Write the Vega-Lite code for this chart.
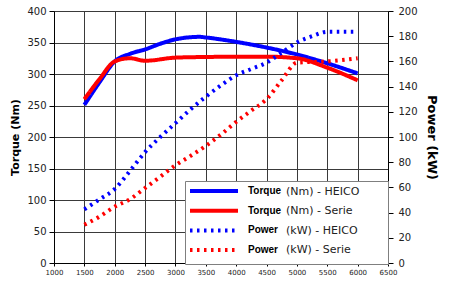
{
  "$schema": "https://vega.github.io/schema/vega-lite/v6.json",
  "width": 334,
  "height": 252,
  "autosize": {"type": "none"},
  "padding": {"left": 54, "top": 11, "right": 62, "bottom": 24},
  "background": "white",
  "config": {
    "view": {"stroke": null},
    "font": "DejaVu Sans",
    "axis": {"gridColor": "#3a3a3a", "gridOpacity": 1, "gridWidth": 1, "domainColor": "#000", "tickColor": "#000", "labelColor": "#222", "labelFont": "DejaVu Sans", "titleFont": "DejaVu Sans", "titleColor": "#000"}
  },
  "datasets": {
    "torque": [
      {"rpm": 1500, "value": 251, "series": "Torque (Nm) - HEICO", "unit": "(Nm) - HEICO"},
      {"rpm": 1750, "value": 287, "series": "Torque (Nm) - HEICO", "unit": "(Nm) - HEICO"},
      {"rpm": 2000, "value": 320, "series": "Torque (Nm) - HEICO", "unit": "(Nm) - HEICO"},
      {"rpm": 2250, "value": 332, "series": "Torque (Nm) - HEICO", "unit": "(Nm) - HEICO"},
      {"rpm": 2500, "value": 339, "series": "Torque (Nm) - HEICO", "unit": "(Nm) - HEICO"},
      {"rpm": 2750, "value": 348, "series": "Torque (Nm) - HEICO", "unit": "(Nm) - HEICO"},
      {"rpm": 3000, "value": 355, "series": "Torque (Nm) - HEICO", "unit": "(Nm) - HEICO"},
      {"rpm": 3400, "value": 359, "series": "Torque (Nm) - HEICO", "unit": "(Nm) - HEICO"},
      {"rpm": 3500, "value": 358, "series": "Torque (Nm) - HEICO", "unit": "(Nm) - HEICO"},
      {"rpm": 4000, "value": 351, "series": "Torque (Nm) - HEICO", "unit": "(Nm) - HEICO"},
      {"rpm": 4500, "value": 342, "series": "Torque (Nm) - HEICO", "unit": "(Nm) - HEICO"},
      {"rpm": 5000, "value": 331, "series": "Torque (Nm) - HEICO", "unit": "(Nm) - HEICO"},
      {"rpm": 5500, "value": 317, "series": "Torque (Nm) - HEICO", "unit": "(Nm) - HEICO"},
      {"rpm": 6000, "value": 301, "series": "Torque (Nm) - HEICO", "unit": "(Nm) - HEICO"},
      {"rpm": 1500, "value": 260, "series": "Torque (Nm) - Serie", "unit": "(Nm) - Serie"},
      {"rpm": 1750, "value": 292, "series": "Torque (Nm) - Serie", "unit": "(Nm) - Serie"},
      {"rpm": 2000, "value": 320, "series": "Torque (Nm) - Serie", "unit": "(Nm) - Serie"},
      {"rpm": 2250, "value": 325, "series": "Torque (Nm) - Serie", "unit": "(Nm) - Serie"},
      {"rpm": 2500, "value": 321, "series": "Torque (Nm) - Serie", "unit": "(Nm) - Serie"},
      {"rpm": 3000, "value": 326, "series": "Torque (Nm) - Serie", "unit": "(Nm) - Serie"},
      {"rpm": 3500, "value": 327, "series": "Torque (Nm) - Serie", "unit": "(Nm) - Serie"},
      {"rpm": 4000, "value": 327.5, "series": "Torque (Nm) - Serie", "unit": "(Nm) - Serie"},
      {"rpm": 4500, "value": 327.5, "series": "Torque (Nm) - Serie", "unit": "(Nm) - Serie"},
      {"rpm": 5000, "value": 325, "series": "Torque (Nm) - Serie", "unit": "(Nm) - Serie"},
      {"rpm": 5500, "value": 310, "series": "Torque (Nm) - Serie", "unit": "(Nm) - Serie"},
      {"rpm": 6000, "value": 290, "series": "Torque (Nm) - Serie", "unit": "(Nm) - Serie"}
    ],
    "power": [
      {"rpm": 1500, "value": 42.6, "series": "Power (kW) - HEICO", "unit": "(kW) - HEICO"},
      {"rpm": 1750, "value": 50.5, "series": "Power (kW) - HEICO", "unit": "(kW) - HEICO"},
      {"rpm": 2000, "value": 58.7, "series": "Power (kW) - HEICO", "unit": "(kW) - HEICO"},
      {"rpm": 2250, "value": 73, "series": "Power (kW) - HEICO", "unit": "(kW) - HEICO"},
      {"rpm": 2500, "value": 88, "series": "Power (kW) - HEICO", "unit": "(kW) - HEICO"},
      {"rpm": 2750, "value": 100, "series": "Power (kW) - HEICO", "unit": "(kW) - HEICO"},
      {"rpm": 3000, "value": 111, "series": "Power (kW) - HEICO", "unit": "(kW) - HEICO"},
      {"rpm": 3250, "value": 122, "series": "Power (kW) - HEICO", "unit": "(kW) - HEICO"},
      {"rpm": 3500, "value": 132, "series": "Power (kW) - HEICO", "unit": "(kW) - HEICO"},
      {"rpm": 3750, "value": 141, "series": "Power (kW) - HEICO", "unit": "(kW) - HEICO"},
      {"rpm": 4000, "value": 149, "series": "Power (kW) - HEICO", "unit": "(kW) - HEICO"},
      {"rpm": 4250, "value": 154, "series": "Power (kW) - HEICO", "unit": "(kW) - HEICO"},
      {"rpm": 4500, "value": 159, "series": "Power (kW) - HEICO", "unit": "(kW) - HEICO"},
      {"rpm": 4750, "value": 167, "series": "Power (kW) - HEICO", "unit": "(kW) - HEICO"},
      {"rpm": 5000, "value": 175, "series": "Power (kW) - HEICO", "unit": "(kW) - HEICO"},
      {"rpm": 5250, "value": 180, "series": "Power (kW) - HEICO", "unit": "(kW) - HEICO"},
      {"rpm": 5500, "value": 183.5, "series": "Power (kW) - HEICO", "unit": "(kW) - HEICO"},
      {"rpm": 6000, "value": 183.5, "series": "Power (kW) - HEICO", "unit": "(kW) - HEICO"},
      {"rpm": 1500, "value": 30.4, "series": "Power (kW) - Serie", "unit": "(kW) - Serie"},
      {"rpm": 1750, "value": 36.8, "series": "Power (kW) - Serie", "unit": "(kW) - Serie"},
      {"rpm": 2000, "value": 44.7, "series": "Power (kW) - Serie", "unit": "(kW) - Serie"},
      {"rpm": 2250, "value": 50.6, "series": "Power (kW) - Serie", "unit": "(kW) - Serie"},
      {"rpm": 2500, "value": 59.5, "series": "Power (kW) - Serie", "unit": "(kW) - Serie"},
      {"rpm": 2750, "value": 68.5, "series": "Power (kW) - Serie", "unit": "(kW) - Serie"},
      {"rpm": 3000, "value": 77.6, "series": "Power (kW) - Serie", "unit": "(kW) - Serie"},
      {"rpm": 3250, "value": 85, "series": "Power (kW) - Serie", "unit": "(kW) - Serie"},
      {"rpm": 3500, "value": 93, "series": "Power (kW) - Serie", "unit": "(kW) - Serie"},
      {"rpm": 3750, "value": 102, "series": "Power (kW) - Serie", "unit": "(kW) - Serie"},
      {"rpm": 4000, "value": 112, "series": "Power (kW) - Serie", "unit": "(kW) - Serie"},
      {"rpm": 4250, "value": 121, "series": "Power (kW) - Serie", "unit": "(kW) - Serie"},
      {"rpm": 4500, "value": 130, "series": "Power (kW) - Serie", "unit": "(kW) - Serie"},
      {"rpm": 4750, "value": 145, "series": "Power (kW) - Serie", "unit": "(kW) - Serie"},
      {"rpm": 5000, "value": 159, "series": "Power (kW) - Serie", "unit": "(kW) - Serie"},
      {"rpm": 5500, "value": 160, "series": "Power (kW) - Serie", "unit": "(kW) - Serie"},
      {"rpm": 6000, "value": 162.5, "series": "Power (kW) - Serie", "unit": "(kW) - Serie"}
    ]
  },
  "encoding": {
    "x": {
      "field": "rpm", "type": "quantitative",
      "scale": {"domain": [1000, 6500], "nice": false, "zero": false},
      "axis": {"title": null, "values": [1000, 1500, 2000, 2500, 3000, 3500, 4000, 4500, 5000, 5500, 6000, 6500], "format": "d", "labelFontSize": 7, "tickSize": 3, "labelPadding": 2, "grid": true, "labelFlush": false}
    },
    "color": {
      "field": "series", "type": "nominal",
      "scale": {"domain": ["Torque (Nm) - HEICO", "Torque (Nm) - Serie", "Power (kW) - HEICO", "Power (kW) - Serie"], "range": ["#0000ff", "#ff0000", "#0000ff", "#ff0000"]},
      "legend": {
        "orient": "none", "legendX": 131, "legendY": 170, "title": null, "zindex": 1,
        "symbolType": "M-1.667,0H14.333", "symbolSize": 36, "labelOffset": 48,
        "labelFont": "Liberation Sans", "labelFontSize": 10, "labelFontWeight": "bold", "labelColor": "#000",
        "labelLimit": 400,
        "labelExpr": "split(datum.label, ' ')[0] + '\u00a0\u00a0\u00a0\u00a0\u00a0\u00a0\u00a0\u00a0\u00a0\u00a0\u00a0\u00a0\u00a0\u00a0\u00a0\u00a0\u00a0\u00a0\u00a0\u00a0\u00a0\u00a0\u00a0\u00a0\u00a0\u00a0\u00a0\u00a0\u00a0\u00a0\u00a0\u00a0\u00a0\u00a0\u2800'",
        "rowPadding": 3.7, "padding": 5,
        "fillColor": "white", "strokeColor": "#7f7f7f"
      }
    },
    "strokeDash": {
      "field": "series", "type": "nominal",
      "scale": {"domain": ["Torque (Nm) - HEICO", "Torque (Nm) - Serie", "Power (kW) - HEICO", "Power (kW) - Serie"], "range": [[1, 0], [1, 0], [2.5, 4.5], [2.5, 4.5]]}
    },
    "strokeWidth": {
      "field": "series", "type": "nominal",
      "scale": {"domain": ["Torque (Nm) - HEICO", "Torque (Nm) - Serie", "Power (kW) - HEICO", "Power (kW) - Serie"], "range": [4, 4, 2, 2]}
    },
    "opacity": {
      "field": "unit", "type": "nominal",
      "scale": {"domain": ["(Nm) - HEICO", "(Nm) - Serie", "(kW) - HEICO", "(kW) - Serie"], "range": [1, 1, 1, 1]},
      "legend": {
        "orient": "none", "legendX": 131, "legendY": 170, "title": null, "zindex": 2,
        "symbolType": "M-1.667,0H14.333", "symbolSize": 36, "symbolStrokeWidth": 4,
        "symbolStrokeColor": "transparent", "symbolFillColor": "transparent", "symbolOpacity": 0,
        "labelOffset": 85, "labelFontSize": 11, "labelColor": "#222",
        "rowPadding": 2.5, "padding": 5,
        "fillColor": "transparent", "strokeColor": "transparent"
      }
    }
  },
  "layer": [
    {
      "data": {"name": "torque"},
      "mark": {"type": "line", "interpolate": "monotone", "strokeCap": "butt"},
      "encoding": {
        "y": {
          "field": "value", "type": "quantitative",
          "scale": {"domain": [0, 400], "nice": false},
          "axis": {"title": "Torque (Nm)", "titleFontSize": 11, "titleFontWeight": "bold", "titlePadding": 6, "values": [0, 50, 100, 150, 200, 250, 300, 350, 400], "labelFontSize": 10, "tickSize": 5, "labelPadding": 3, "grid": true}
        }
      }
    },
    {
      "data": {"name": "power"},
      "mark": {"type": "line", "interpolate": "monotone", "strokeCap": "butt"},
      "encoding": {
        "y": {
          "field": "value", "type": "quantitative",
          "scale": {"domain": [0, 200], "nice": false},
          "axis": {"orient": "right", "title": "Power (kW)", "titleFontSize": 13, "titleFontWeight": "bold", "titleAngle": 90, "titlePadding": 7, "values": [0, 20, 40, 60, 80, 100, 120, 140, 160, 180, 200], "labelFontSize": 10, "tickSize": 5, "labelPadding": 5, "grid": false}
        }
      }
    }
  ],
  "resolve": {"scale": {"y": "independent"}}
}
